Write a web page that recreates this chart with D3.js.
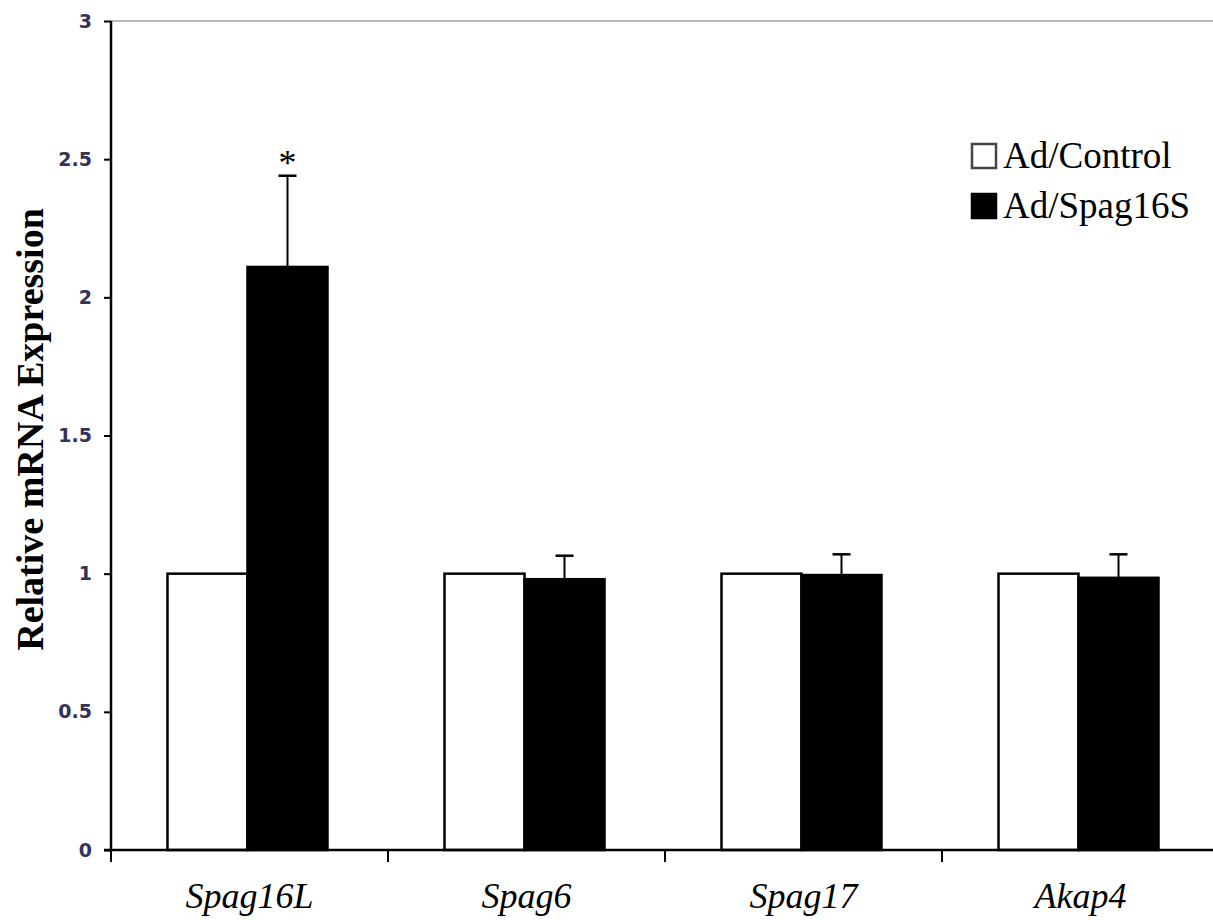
<!DOCTYPE html>
<html>
<head>
<meta charset="utf-8">
<script src="https://cdn.jsdelivr.net/npm/d3@7"></script>
<style>
  body { margin: 0; background: #fff; }
  svg { display: block; }
</style>
</head>
<body>
<div id="chart"></div>
<script>
// genes on the x axis
const genes = ["Spag16L", "Spag6", "Spag17", "Akap4"];
// the two adenovirus groups
const groups = ["Ad/Control", "Ad/Spag16S"];
// relative expression
const controlValues = [1, 1, 1, 1];
const spag16sValues = [2.11, 0.98, 0.995, 0.985];
// upper error (SE) for Ad/Spag16S, controls have none
const spag16sErrors = [0.33, 0.085, 0.075, 0.085];
const yTicks = [0, 0.5, 1, 1.5, 2, 2.5, 3];
// genes with a significant change get a star
const starred = ["Spag16L"];

const width = 1213;
const height = 920;
const serif = "'Liberation Serif', 'Times New Roman', serif";

const svg = d3.select("#chart").append("svg")
    .attr("width", width)
    .attr("height", height);

// band per gene, axis runs off the right edge like in the original
const x = d3.scaleBand()
    .domain(genes)
    .range([111, 1219]);

// inner band for the two bars of one gene
const x1 = d3.scaleBand()
    .domain(groups)
    .range([-82, 78]);

const y = d3.scaleLinear()
    .domain([0, 3])
    .range([850, 21]);

const rows = genes.map((g, i) => ({
    gene: g,
    values: [
        {group: groups[0], value: controlValues[i], err: 0},
        {group: groups[1], value: spag16sValues[i], err: spag16sErrors[i]}
    ]
}));

const fill = d3.scaleOrdinal(groups, ["#fff", "#000"]);

// grey line on the top of the plot area
svg.append("line")
    .attr("x1", x.range()[0])
    .attr("x2", width)
    .attr("y1", y(3))
    .attr("y2", y(3))
    .attr("stroke", "#b8b8b8")
    .attr("stroke-width", 2);

const gene = svg.selectAll("g.gene")
  .data(rows)
  .join("g")
    .attr("class", "gene")
    .attr("transform", d => `translate(${x(d.gene) + x.bandwidth() / 2},0)`);

// error bars go first, the bar hides the lower half
gene.selectAll("g.err")
  .data(d => d.values.filter(v => v.err > 0))
  .join("g")
    .attr("class", "err")
    .each(function (d) {
        const cx = x1(d.group) + x1.bandwidth() / 2;
        const g = d3.select(this);
        g.append("line")
            .attr("x1", cx).attr("x2", cx)
            .attr("y1", y(d.value))
            .attr("y2", y(d.value + d.err))
            .attr("stroke", "#000")
            .attr("stroke-width", 2);
        g.append("line")
            .attr("x1", cx - 9).attr("x2", cx + 9)
            .attr("y1", y(d.value + d.err))
            .attr("y2", y(d.value + d.err))
            .attr("stroke", "#000")
            .attr("stroke-width", 2.5);
    });

gene.selectAll("rect")
  .data(d => d.values)
  .join("rect")
    .attr("x", d => x1(d.group))
    .attr("y", d => y(d.value))
    .attr("width", x1.bandwidth())
    .attr("height", d => y(0) - y(d.value))
    .attr("fill", d => fill(d.group))
    .attr("stroke", "#000")
    .attr("stroke-width", 2.5);

// significance star above the error bar
gene.filter(d => starred.includes(d.gene))
  .append("text")
    .attr("x", d => x1(groups[1]) + x1.bandwidth() / 2)
    .attr("y", d => y(d.values[1].value + d.values[1].err) - 1)
    .attr("text-anchor", "middle")
    .attr("font-family", serif)
    .attr("font-size", 36)
    .text("*");

// y axis
svg.append("g")
    .attr("transform", `translate(${x.range()[0]},0)`)
    .call(d3.axisLeft(y).tickValues(yTicks).tickSize(7).tickPadding(12).tickFormat(d3.format("")))
    .call(g => g.select(".domain").attr("stroke-width", 2.5).attr("d", `M0,${y(3)}V${y(0)}`))
    .call(g => g.selectAll(".tick line").attr("stroke-width", 2))
    .call(g => g.selectAll(".tick text")
        .attr("font-family", "'DejaVu Sans', Verdana, sans-serif")
        .attr("font-size", 19)
        .attr("font-weight", "bold")
        .attr("fill", "#33335a"));

// x axis line, ticks between the genes
svg.append("g")
    .attr("transform", `translate(0,${y(0)})`)
    .call(d3.axisBottom(x).tickSize(0).tickFormat(""))
    .call(g => g.select(".domain").attr("stroke-width", 2.5).attr("d", `M${x.range()[0] - 7},0H${width}`))
    .call(g => g.selectAll(".tick").remove());

svg.append("g")
    .selectAll("line")
    .data(genes)
    .join("line")
    .attr("x1", d => x(d))
    .attr("x2", d => x(d))
    .attr("y1", y(0))
    .attr("y2", y(0) + 12)
    .attr("stroke", "#000")
    .attr("stroke-width", 2);

// gene names in italics
svg.append("g")
    .selectAll("text")
    .data(genes)
    .join("text")
    .attr("x", d => x(d) + x.bandwidth() / 2)
    .attr("y", 908)
    .attr("text-anchor", "middle")
    .attr("font-family", serif)
    .attr("font-style", "italic")
    .attr("font-size", 36)
    .text(d => d);

// y axis title
svg.append("text")
    .attr("transform", `translate(43,${(y(0) + y(3)) / 2 - 6}) rotate(-90)`)
    .attr("text-anchor", "middle")
    .attr("font-family", serif)
    .attr("font-weight", "bold")
    .attr("font-size", 38)
    .text("Relative mRNA Expression");

// legend
const legend = svg.append("g")
    .attr("transform", "translate(972,144)")
  .selectAll("g")
  .data(groups)
  .join("g")
    .attr("transform", (d, i) => `translate(0,${i * 50})`);

legend.append("rect")
    .attr("x", 0)
    .attr("y", 0)
    .attr("width", 24)
    .attr("height", 24)
    .attr("fill", d => fill(d))
    .attr("stroke", d => d === groups[0] ? "#444" : "#000")
    .attr("stroke-width", 2.5);

legend.append("text")
    .attr("x", 31)
    .attr("y", 24)
    .attr("font-family", serif)
    .attr("font-size", 37)
    .text(d => d);
</script>
</body>
</html>
